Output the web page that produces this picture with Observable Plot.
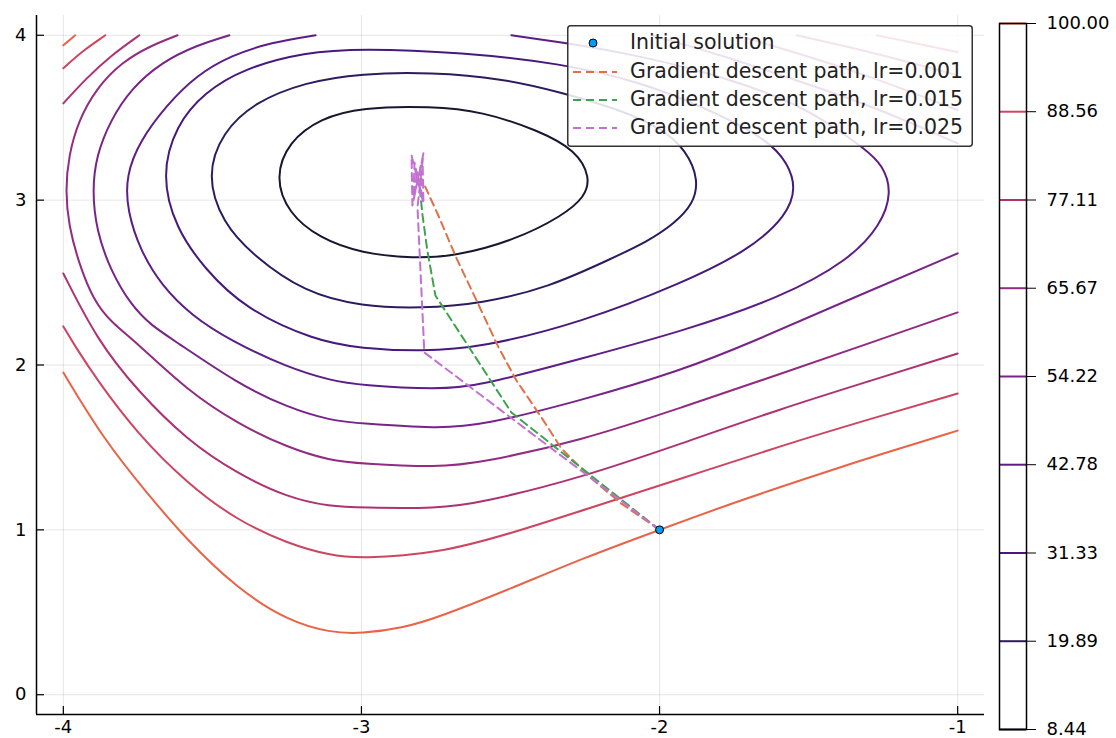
<!DOCTYPE html>
<html><head><meta charset="utf-8">
<script src="https://cdn.jsdelivr.net/npm/d3@7"></script>
<script src="https://cdn.jsdelivr.net/npm/@observablehq/plot@0.6"></script>
<style>
html,body{margin:0;padding:0;background:#fff;}
#wrap{position:relative;width:1116px;height:738px;font-family:"DejaVu Sans",sans-serif;}
#main{position:absolute;left:0;top:0;}
#cbar{position:absolute;left:990px;top:0;}
#legend{position:absolute;left:567px;top:25px;}
</style></head><body>
<div id="wrap"><div id="main"></div><div id="cbar"></div><div id="legend"></div></div>
<script>
// ---- data ----
const levels = [8.44, 19.89, 31.33, 42.78, 54.22, 65.67, 77.11, 88.56, 100.00];
const levelColors = ["#1a1530", "#2d1b5e", "#47197b", "#5d1d86", "#782388", "#932b80", "#ae3272", "#cd4560", "#ea6347"];
const xTicks = [-4, -3, -2, -1];
const yTicks = [0, 1, 2, 3, 4];

const c1 = [[-3.290,3.138],[-3.244,3.355],[-3.138,3.496],[-3.000,3.563],[-2.765,3.569],[-2.597,3.539],[-2.406,3.423],[-2.280,3.302],[-2.232,3.138],[-2.250,3.020],[-2.325,2.905],[-2.487,2.756],[-2.688,2.659],[-2.822,2.647],[-3.000,2.677],[-3.142,2.770],[-3.246,2.922]];
const c2 = [[-3.520,3.150],[-3.466,3.414],[-3.359,3.593],[-3.191,3.715],[-3.000,3.769],[-2.765,3.775],[-2.530,3.739],[-2.329,3.654],[-2.128,3.545],[-1.993,3.436],[-1.910,3.302],[-1.868,3.120],[-1.888,2.974],[-1.950,2.859],[-2.040,2.749],[-2.161,2.646],[-2.372,2.470],[-2.597,2.373],[-2.799,2.343],[-3.000,2.355],[-3.191,2.440],[-3.362,2.662],[-3.466,2.862]];
const c3 = [[-3.672,3.150],[-3.622,3.456],[-3.527,3.654],[-3.393,3.800],[-3.191,3.897],[-3.000,3.921],[-2.664,3.897],[-2.329,3.830],[-2.060,3.715],[-1.826,3.545],[-1.634,3.363],[-1.570,3.223],[-1.542,3.077],[-1.572,2.907],[-1.701,2.695],[-1.926,2.495],[-2.262,2.258],[-2.597,2.106],[-2.799,2.082],[-3.000,2.100],[-3.158,2.149],[-3.393,2.343],[-3.527,2.586],[-3.622,2.826]];
const c4 = [[-3.154,4.000],[-3.302,3.957],[-3.436,3.879],[-3.554,3.757],[-3.654,3.575],[-3.742,3.363],[-3.790,3.150],[-3.786,2.938],[-3.742,2.695],[-3.671,2.483],[-3.570,2.300],[-3.440,2.149],[-3.248,1.985],[-3.104,1.906],[-3.000,1.876],[-2.745,1.851],[-2.597,1.876],[-2.262,2.039],[-1.926,2.203],[-1.591,2.410],[-1.366,2.634],[-1.258,2.847],[-1.220,3.047],[-1.250,3.211],[-1.312,3.314],[-1.456,3.496],[-1.591,3.624],[-1.859,3.788],[-2.128,3.897],[-2.329,3.957],[-2.497,4.000]];
const c5 = [[-3.443,4.000],[-3.554,3.939],[-3.671,3.836],[-3.772,3.678],[-3.842,3.484],[-3.889,3.272],[-3.903,3.059],[-3.889,2.816],[-3.842,2.574],[-3.772,2.361],[-3.705,2.240],[-3.628,2.149],[-3.416,1.888],[-3.248,1.742],[-3.104,1.663],[-3.000,1.645],[-2.745,1.615],[-2.597,1.633],[-2.262,1.785],[-1.926,1.967],[-1.691,2.137],[-1.356,2.404],[-1.000,2.677]];
const c5b = [[-2.027,4.000],[-1.792,3.879],[-1.591,3.757],[-1.289,3.575],[-1.000,3.344]];
const c6 = [[-3.617,4.000],[-3.705,3.939],[-3.805,3.836],[-3.889,3.678],[-3.949,3.484],[-3.982,3.272],[-3.993,3.059],[-3.982,2.847],[-3.949,2.622],[-3.899,2.392],[-3.839,2.258],[-3.762,2.149],[-3.584,1.845],[-3.416,1.645],[-3.248,1.499],[-3.104,1.420],[-3.000,1.402],[-2.745,1.378],[-2.597,1.408],[-2.262,1.542],[-1.926,1.742],[-1.591,1.948],[-1.289,2.137],[-1.000,2.319]];
const c6b = [[-1.742,4.000],[-1.591,3.921],[-1.289,3.751],[-1.000,3.545]];
const c7 = [[-4.000,2.555],[-3.886,2.149],[-3.752,1.845],[-3.584,1.542],[-3.416,1.341],[-3.248,1.196],[-3.104,1.141],[-3.000,1.135],[-2.745,1.129],[-2.597,1.165],[-2.262,1.317],[-1.926,1.524],[-1.591,1.736],[-1.289,1.906],[-1.000,2.070]];
const c7b = [[-3.745,4.000],[-3.839,3.879],[-3.923,3.739],[-4.000,3.587]];
const c7c = [[-1.540,4.000],[-1.272,3.891],[-1.000,3.757]];
const c8 = [[-4.000,2.234],[-3.966,2.130],[-3.886,1.906],[-3.752,1.584],[-3.584,1.281],[-3.416,1.056],[-3.248,0.917],[-3.104,0.844],[-3.000,0.826],[-2.745,0.856],[-2.500,0.977],[-2.252,1.123],[-1.926,1.311],[-1.591,1.511],[-1.289,1.675],[-1.000,1.827]];
const c8b = [[-3.859,4.000],[-3.933,3.909],[-4.000,3.800]];
const c8c = [[-1.272,4.000],[-1.138,3.951],[-1.000,3.897]];
const c9 = [[-4.000,1.954],[-3.862,1.542],[-3.718,1.220],[-3.584,0.935],[-3.416,0.643],[-3.248,0.449],[-3.104,0.376],[-3.000,0.370],[-2.856,0.407],[-2.745,0.467],[-2.500,0.643],[-2.252,0.832],[-2.000,1.000],[-1.752,1.165],[-1.500,1.317],[-1.252,1.463],[-1.000,1.602]];
const c9b = [[-3.960,4.000],[-4.000,3.939]];

// gradient descent paths
const initialSolution = [[-2, 1]];
const gdLr001 = [[-2,1],[-2.128,1.159],[-2.228,1.311],[-2.329,1.493],[-2.396,1.681],[-2.480,1.906],[-2.540,2.106],[-2.614,2.392],[-2.681,2.647],[-2.742,2.907],[-2.799,3.132]];
const gdLr015 = [[-2,1],[-2.497,1.712],[-2.752,2.422],[-2.779,2.695],[-2.795,2.907],[-2.802,3.029],[-2.805,3.102],[-2.809,3.132]];
const gdLr025 = [[-2,1],[-2.789,2.076],[-2.812,2.956],[-2.792,3.284],[-2.829,2.968],[-2.832,3.272],[-2.792,2.980],[-2.795,3.253],[-2.826,2.998],[-2.822,3.229],[-2.799,3.023],[-2.802,3.205],[-2.819,3.059],[-2.815,3.180],[-2.805,3.089],[-2.809,3.132]];
const legendLabels = ["Initial solution", "Gradient descent path, lr=0.001", "Gradient descent path, lr=0.015", "Gradient descent path, lr=0.025"];
const seriesColors = ["#009af9", "#e26f46", "#3da44d", "#c271d2"];

// ---- tables ----
const contours = [
  {level: levels[0], closed: true, pts: c1},
  {level: levels[1], closed: true, pts: c2},
  {level: levels[2], closed: true, pts: c3},
  {level: levels[3], closed: false, pts: c4},
  {level: levels[4], closed: false, pts: c5},
  {level: levels[4], closed: false, pts: c5b},
  {level: levels[5], closed: false, pts: c6},
  {level: levels[5], closed: false, pts: c6b},
  {level: levels[6], closed: false, pts: c7},
  {level: levels[6], closed: false, pts: c7b},
  {level: levels[6], closed: false, pts: c7c},
  {level: levels[7], closed: false, pts: c8},
  {level: levels[7], closed: false, pts: c8b},
  {level: levels[7], closed: false, pts: c8c},
  {level: levels[8], closed: false, pts: c9},
  {level: levels[8], closed: false, pts: c9b}
];
const rowsOpen = [], rowsClosed = [];
contours.forEach((c, i) => c.pts.forEach(([x, y]) => (c.closed ? rowsClosed : rowsOpen).push({seg: i, level: c.level, x, y})));
const paths = [gdLr001, gdLr015, gdLr025];

const W = 990, H = 738, mL = 36, mR = 6, mT = 15, mB = 24;
const innerW = W - mL - mR, innerH = H - mT - mB;
const xDomain = [-4.09, -0.91], yDomain = [-0.12, 4.12];
const colorScale = {type: "ordinal", domain: levels, range: levelColors};
const font = {fontFamily: "DejaVu Sans", fontSize: "18px", background: "transparent", color: "#000"};

const pathMarks = paths.map((p, i) => Plot.line(p, {x: d => d[0], y: d => d[1], stroke: seriesColors[i + 1], strokeWidth: 2, strokeDasharray: "8,5"}));

const main = Plot.plot({
  width: W, height: H, marginLeft: mL, marginRight: mR, marginTop: mT, marginBottom: mB,
  style: font,
  x: {domain: xDomain},
  y: {domain: yDomain},
  color: colorScale,
  marks: [
    Plot.gridX(xTicks, {stroke: "#000", strokeOpacity: 0.1, strokeWidth: 1}),
    Plot.gridY(yTicks, {stroke: "#000", strokeOpacity: 0.1, strokeWidth: 1}),
    Plot.line(rowsOpen, {x: "x", y: "y", z: "seg", stroke: "level", strokeWidth: 2, curve: "basis"}),
    Plot.line(rowsClosed, {x: "x", y: "y", z: "seg", stroke: "level", strokeWidth: 2, curve: "basis-closed"}),
    ...pathMarks,
    Plot.dot(initialSolution, {x: d => d[0], y: d => d[1], r: 4, fill: seriesColors[0], stroke: "black", strokeWidth: 1}),
    Plot.ruleX([xDomain[0]], {stroke: "black", strokeWidth: 1.5}),
    Plot.ruleY([yDomain[0]], {stroke: "black", strokeWidth: 1.5}),
    Plot.tickX(xTicks, {x: d => d, insetTop: innerH - 8, stroke: "black", strokeWidth: 1.2}),
    Plot.tickY(yTicks, {y: d => d, insetRight: innerW - 8, stroke: "black", strokeWidth: 1.2}),
    Plot.axisX(xTicks, {tickSize: 0, tickPadding: 6, fontSize: 18, tickFormat: d => String(d), label: null}),
    Plot.axisY(yTicks, {tickSize: 0, tickPadding: 10, fontSize: 18, tickFormat: d => String(d), label: null})
  ]
});
document.getElementById("main").appendChild(main);

const cbar = Plot.plot({
  width: 126, height: 738, marginLeft: 9, marginRight: 90, marginTop: 23, marginBottom: 9,
  style: font,
  y: {domain: [levels[0], levels[levels.length - 1]]},
  color: colorScale,
  marks: [
    Plot.ruleY(levels, {y: d => d, stroke: d => d, strokeWidth: 2}),
    Plot.frame({stroke: "black", strokeWidth: 1.5}),
    Plot.axisY(levels, {anchor: "right", tickSize: 9, tickPadding: 11, fontSize: 18, tickFormat: d => d.toFixed(2), label: null})
  ]
});
document.getElementById("cbar").appendChild(cbar);

// legend (inside the plot, top right)
const lw = 406, lh = 122, rowY = [18, 47, 75, 103];
const svg = d3.select("#legend").append("svg").attr("width", lw).attr("height", lh)
  .style("font-family", "DejaVu Sans").style("font-size", "20.5px");
svg.append("rect").attr("x", 0.75).attr("y", 0.75).attr("width", lw - 1.5).attr("height", lh - 1.5)
  .attr("rx", 3).attr("fill", "white").attr("fill-opacity", 0.86).attr("stroke", "#333").attr("stroke-width", 1.5);
legendLabels.forEach((lab, i) => {
  if (i === 0) {
    svg.append("circle").attr("cx", 26).attr("cy", rowY[i]).attr("r", 4).attr("fill", seriesColors[0]).attr("stroke", "black");
  } else {
    svg.append("line").attr("x1", 6).attr("x2", 50).attr("y1", rowY[i]).attr("y2", rowY[i])
      .attr("stroke", seriesColors[i]).attr("stroke-width", 2).attr("stroke-dasharray", "8,5");
  }
  svg.append("text").attr("x", 63).attr("y", rowY[i] - 1).attr("dominant-baseline", "central").attr("fill", "#222").text(lab);
});
</script></body></html>
